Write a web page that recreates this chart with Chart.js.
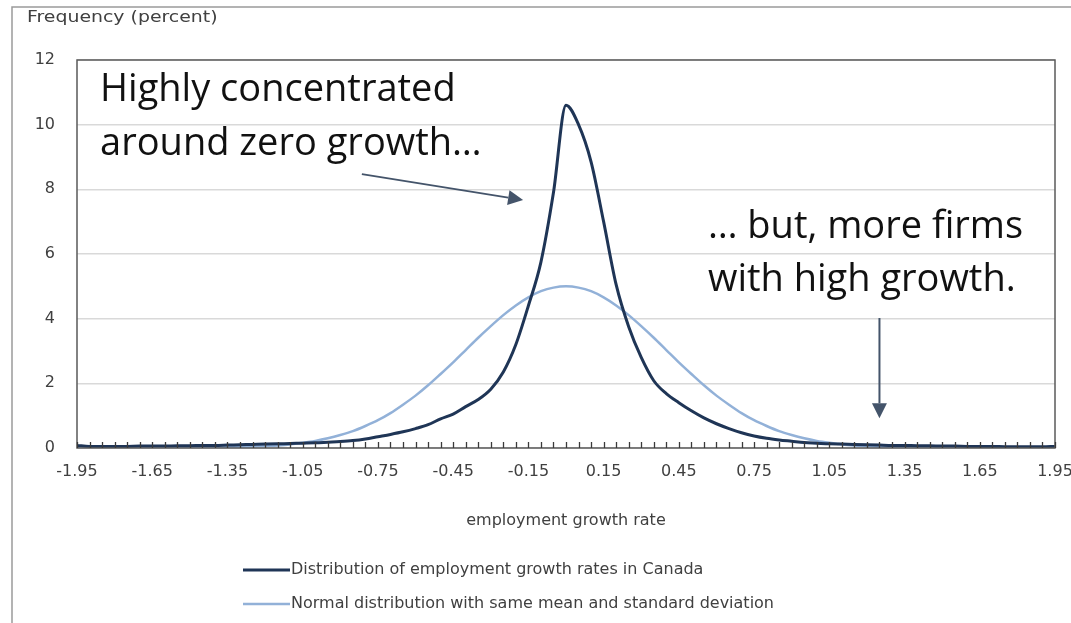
<!DOCTYPE html>
<html>
<head>
<meta charset="utf-8">
<script src="https://cdn.jsdelivr.net/npm/chart.js@4.4.1/dist/chart.umd.min.js"></script>
<style>
  html, body { margin: 0; padding: 0; background: #ffffff; }
  #wrap { width: 1071px; height: 623px; position: relative; }
</style>
</head>
<body>
<div id="wrap"><canvas id="chart" width="1071" height="623"></canvas></div>
<script>
// Employment growth rate bins (width 0.05)
const growthRates = [
  -1.95, -1.90, -1.85, -1.80, -1.75, -1.70, -1.65, -1.60, -1.55, -1.50,
  -1.45, -1.40, -1.35, -1.30, -1.25, -1.20, -1.15, -1.10, -1.05, -1.00,
  -0.95, -0.90, -0.85, -0.80, -0.75, -0.70, -0.65, -0.60, -0.55, -0.50,
  -0.45, -0.40, -0.35, -0.30, -0.25, -0.20, -0.15, -0.10, -0.05,
   0.00,
   0.05,  0.10,  0.15,  0.20,  0.25,  0.30,  0.35,  0.40,  0.45,  0.50,
   0.55,  0.60,  0.65,  0.70,  0.75,  0.80,  0.85,  0.90,  0.95,  1.00,
   1.05,  1.10,  1.15,  1.20,  1.25,  1.30,  1.35,  1.40,  1.45,  1.50,
   1.55,  1.60,  1.65,  1.70,  1.75,  1.80,  1.85,  1.90,  1.95
];

// Share of firms in each bin, percent — observed Canadian distribution
const canadaShare = [
  0.08, 0.05, 0.05, 0.05, 0.05, 0.06, 0.06, 0.06, 0.07, 0.07,
  0.08, 0.08, 0.09, 0.10, 0.11, 0.12, 0.13, 0.14, 0.15, 0.16,
  0.18, 0.20, 0.23, 0.28, 0.35, 0.42, 0.50, 0.60, 0.72, 0.90,
  1.05, 1.28, 1.50, 1.82, 2.35, 3.20, 4.40, 5.75, 7.90,
  10.60,
  10.00, 8.85, 7.00, 5.05, 3.75, 2.80, 2.08, 1.68, 1.40, 1.15,
  0.93, 0.75, 0.60, 0.47, 0.37, 0.30, 0.25, 0.21, 0.17, 0.15,
  0.13, 0.12, 0.11, 0.10, 0.09, 0.08, 0.08, 0.07, 0.07, 0.06,
  0.06, 0.05, 0.05, 0.05, 0.04, 0.04, 0.04, 0.04, 0.05
];

// Share of firms in each bin, percent — normal reference curve
const normalShare = [
  0.00, 0.00, 0.00, 0.00, 0.00, 0.00, 0.00, 0.00, 0.00, 0.00,
  0.01, 0.01, 0.02, 0.03, 0.04, 0.06, 0.08, 0.11, 0.16, 0.22,
  0.30, 0.40, 0.52, 0.68, 0.86, 1.08, 1.34, 1.62, 1.94, 2.29,
  2.65, 3.03, 3.41, 3.77, 4.11, 4.41, 4.66, 4.85, 4.96,
  5.00,
  4.96, 4.85, 4.66, 4.41, 4.11, 3.77, 3.41, 3.03, 2.65, 2.29,
  1.94, 1.62, 1.34, 1.08, 0.86, 0.68, 0.52, 0.40, 0.30, 0.22,
  0.16, 0.11, 0.08, 0.06, 0.04, 0.03, 0.02, 0.01, 0.01, 0.00,
  0.00, 0.00, 0.00, 0.00, 0.00, 0.00, 0.00, 0.00, 0.00
];

// Labelled positions on the horizontal axis
const xTickLabels = [-1.95, -1.65, -1.35, -1.05, -0.75, -0.45, -0.15, 0.15, 0.45, 0.75, 1.05, 1.35, 1.65, 1.95];
const yTickLabels = [0, 2, 4, 6, 8, 10, 12];

const seriesNames = [
  'Distribution of employment growth rates in Canada',
  'Normal distribution with same mean and standard deviation'
];

const DARK = '#1f3556';
const LIGHT = '#92b1d8';
const ARROW = '#44546a';
const AXIS_TEXT = '#404040';
const SMALL_FONT = '"DejaVu Sans", Verdana, sans-serif';
const BIG_FONT = '"Open Sans", "Noto Sans", sans-serif';

// Callouts, placed in data units (x = growth rate, y = percent)
const callouts = [
  { lines: ['Highly concentrated', 'around zero growth…'], x: -1.858, y: [10.73, 9.06] },
  { lines: ['… but, more firms', 'with high growth.'], x: 0.566, y: [6.50, 4.86] }
];
const arrows = [
  { from: [-0.814, 8.47], to: [-0.171, 7.67] },
  { from: [1.25, 4.02], to: [1.25, 0.92] }
];

function toPoints(values) {
  return growthRates.map((x, i) => ({ x: x, y: values[i] }));
}

function drawArrow(ctx, x1, y1, x2, y2) {
  const ang = Math.atan2(y2 - y1, x2 - x1);
  const headLen = 15, headHalf = 7.5;
  const bx = x2 - headLen * Math.cos(ang);
  const by = y2 - headLen * Math.sin(ang);
  ctx.save();
  ctx.strokeStyle = ARROW;
  ctx.fillStyle = ARROW;
  ctx.lineWidth = 2;
  ctx.beginPath();
  ctx.moveTo(x1, y1);
  ctx.lineTo(bx, by);
  ctx.stroke();
  ctx.beginPath();
  ctx.moveTo(x2, y2);
  ctx.lineTo(bx + headHalf * Math.sin(ang), by - headHalf * Math.cos(ang));
  ctx.lineTo(bx - headHalf * Math.sin(ang), by + headHalf * Math.cos(ang));
  ctx.closePath();
  ctx.fill();
  ctx.restore();
}

const decorations = {
  id: 'decorations',
  beforeDraw(chart) {
    const ctx = chart.ctx;
    ctx.save();
    ctx.fillStyle = '#ffffff';
    ctx.fillRect(0, 0, chart.width, chart.height);
    // outer frame (top and left edges)
    ctx.strokeStyle = '#9a9a9a';
    ctx.lineWidth = 1.5;
    ctx.beginPath();
    ctx.moveTo(12, chart.height);
    ctx.lineTo(12, 7);
    ctx.lineTo(chart.width, 7);
    ctx.stroke();
    // vertical axis caption, set slightly wide
    ctx.fillStyle = AXIS_TEXT;
    ctx.font = '16px ' + SMALL_FONT;
    ctx.textBaseline = 'middle';
    ctx.textAlign = 'left';
    ctx.translate(27, 18);
    ctx.scale(1.18, 1);
    ctx.fillText('Frequency (percent)', 0, 0);
    ctx.restore();
  },
  afterDatasetsDraw(chart) {
    const ctx = chart.ctx;
    const area = chart.chartArea;
    const xs = chart.scales.x, ys = chart.scales.y;
    ctx.save();
    // plot frame
    ctx.strokeStyle = '#5a5a5a';
    ctx.lineWidth = 1.5;
    ctx.strokeRect(area.left, area.top, area.right - area.left, area.bottom - area.top);
    // inward tick marks at every bin
    ctx.strokeStyle = '#3a3a3a';
    ctx.lineWidth = 1.3;
    ctx.beginPath();
    growthRates.forEach(v => {
      const px = Math.round(xs.getPixelForValue(v)) + 0.5;
      ctx.moveTo(px, area.bottom);
      ctx.lineTo(px, area.bottom - 6);
    });
    ctx.stroke();

    // callout text
    ctx.fillStyle = '#111111';
    ctx.font = '38px ' + BIG_FONT;
    ctx.textAlign = 'left';
    ctx.textBaseline = 'alphabetic';
    callouts.forEach(c => {
      const px = xs.getPixelForValue(c.x);
      c.lines.forEach((t, i) => ctx.fillText(t, px, ys.getPixelForValue(c.y[i])));
    });
    // arrows
    arrows.forEach(a => drawArrow(ctx,
      xs.getPixelForValue(a.from[0]), ys.getPixelForValue(a.from[1]),
      xs.getPixelForValue(a.to[0]), ys.getPixelForValue(a.to[1])));

    // legend, one entry per row
    ctx.font = '16px ' + SMALL_FONT;
    ctx.textBaseline = 'middle';
    const rows = [570, 604];
    chart.data.datasets.forEach((ds, i) => {
      ctx.strokeStyle = ds.borderColor;
      ctx.lineWidth = ds.borderWidth;
      ctx.beginPath();
      ctx.moveTo(243, rows[i]);
      ctx.lineTo(290, rows[i]);
      ctx.stroke();
      ctx.fillStyle = AXIS_TEXT;
      ctx.fillText(ds.label, 291, rows[i]);
    });
    ctx.restore();
  }
};

new Chart(document.getElementById('chart'), {
  type: 'line',
  data: {
    datasets: [
      {
        label: seriesNames[0],
        data: toPoints(canadaShare),
        borderColor: DARK,
        borderWidth: 3,
        pointRadius: 0,
        cubicInterpolationMode: 'monotone',
        fill: false
      },
      {
        label: seriesNames[1],
        data: toPoints(normalShare),
        borderColor: LIGHT,
        borderWidth: 2.5,
        pointRadius: 0,
        cubicInterpolationMode: 'monotone',
        fill: false
      }
    ]
  },
  options: {
    responsive: false,
    animation: false,
    devicePixelRatio: 1,
    layout: { padding: { left: 12, right: 16, top: 60, bottom: 93 }, autoPadding: false },
    plugins: { legend: { display: false }, tooltip: { enabled: false } },
    scales: {
      x: {
        type: 'linear',
        min: -1.95,
        max: 1.95,
        grid: { display: false },
        border: { display: false },
        afterBuildTicks: s => { s.ticks = xTickLabels.map(v => ({ value: v })); },
        afterFit: s => { s.height = 82; s.paddingLeft = 0; s.paddingRight = 0; },
        ticks: {
          autoSkip: false,
          maxRotation: 0,
          padding: 6,
          color: AXIS_TEXT,
          font: { family: SMALL_FONT, size: 16 },
          callback: v => Number(v).toFixed(2)
        },
        title: {
          display: true,
          text: 'employment growth rate',
          color: AXIS_TEXT,
          font: { family: SMALL_FONT, size: 16 },
          padding: { top: 0, bottom: 0 }
        }
      },
      y: {
        min: 0,
        max: 12,
        afterBuildTicks: s => { s.ticks = yTickLabels.map(v => ({ value: v })); },
        afterFit: s => { s.width = 65; },
        grid: { color: '#d9d9d9', lineWidth: 1.5, drawTicks: false },
        border: { display: false },
        ticks: {
          padding: 22,
          color: AXIS_TEXT,
          font: { family: SMALL_FONT, size: 16 }
        }
      }
    }
  },
  plugins: [decorations]
});
</script>
</body>
</html>
